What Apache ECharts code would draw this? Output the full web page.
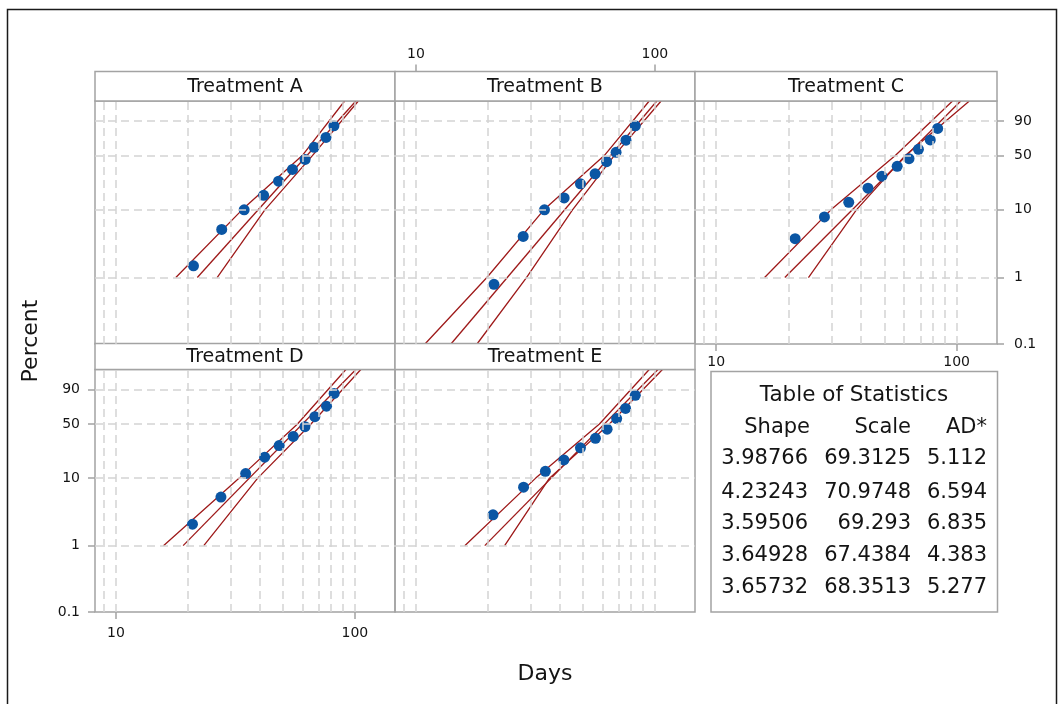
<!DOCTYPE html>
<html>
<head>
<meta charset="utf-8">
<title>Probability plot of Days</title>
<script src="https://cdn.jsdelivr.net/npm/echarts@6/dist/echarts.min.js"></script>
<style>
  html, body { margin: 0; padding: 0; background: #fff; }
  #chart { width: 1062px; height: 704px; }
</style>
</head>
<body>
<div id="chart"></div>
<script>
// panel titles
const panels = ["Treatment A", "Treatment B", "Treatment C", "Treatment D", "Treatment E"];

// plotted points (days, percent)
const daysA = [21.1, 27.7, 34.4, 41.5, 47.9, 54.8, 61.9, 67.5, 75.7, 81.7];
const pctA = [1.5, 5.2, 10.0, 16.0, 24.8, 34.8, 45.5, 60.3, 72.7, 85.7];
const daysB = [21.2, 28.1, 34.5, 41.7, 48.8, 56.2, 62.8, 68.8, 75.7, 82.8];
const pctB = [0.79, 4.1, 10.0, 14.7, 22.9, 30.8, 42.9, 54.0, 69.3, 85.7];
const daysC = [21.3, 28.2, 35.6, 42.8, 48.9, 56.6, 63.4, 69.4, 77.7, 83.4];
const pctC = [3.8, 7.9, 12.8, 20.0, 28.7, 37.9, 46.3, 57.7, 69.6, 83.1];
const daysD = [20.9, 27.5, 34.9, 41.9, 48.2, 55.2, 61.8, 68.0, 76.1, 81.9];
const pctD = [2.1, 5.3, 11.6, 19.6, 27.9, 36.2, 46.8, 59.1, 72.3, 86.5];
const daysE = [21.0, 28.2, 34.8, 41.6, 48.8, 56.4, 63.1, 69.2, 75.4, 82.8];
const pctE = [2.9, 7.4, 12.5, 18.0, 26.1, 34.3, 43.9, 56.7, 69.6, 84.7];

// fitted line and the two bounds, as [percent, days]
const fitA = [[1, 21.9], [99, 101]];
const leftA = [[1, 17.8], [10, 33.7], [50, 60.2], [99, 90.6]];
const rightA = [[1, 26.5], [10, 42.0], [50, 66.4], [99, 103.4]];
const fitB = [[0.1, 14.0], [99, 101.9]];
const leftB = [[0.1, 10.9], [1, 19.8], [10, 34.3], [50, 61.4], [99, 94.7]];
const rightB = [[0.1, 18.0], [1, 29.0], [10, 45.2], [50, 67.6], [99, 106.2]];
const fitC = [[1, 19.3], [99, 104]];
const leftC = [[1, 15.9], [10, 30.0], [50, 55.6], [99, 96.2]];
const rightC = [[1, 24.2], [10, 38.3], [50, 61.2], [99, 113]];
const fitD = [[1, 19.1], [99, 101]];
const leftD = [[1, 15.8], [10, 32.8], [50, 57.5], [99, 91.7]];
const rightD = [[1, 23.3], [10, 39.2], [50, 65.5], [99, 105.9]];
const fitE = [[1, 19.4], [99, 103]];
const leftE = [[1, 16.0], [10, 31.7], [50, 58.6], [99, 94.7]];
const rightE = [[1, 23.5], [10, 36.2], [50, 64.5], [99, 107.6]];

// axis ticks and grid lines
const pctTicks = [0.1, 1, 10, 50, 90];
const pctGrid = [1, 10, 50, 90];
const dayTicks = [10, 100];
const dayGrid = [9, 10, 20, 30, 40, 50, 60, 70, 80, 90, 100];

// table of statistics
const shapeCol = ["3.98766", "4.23243", "3.59506", "3.64928", "3.65732"];
const scaleCol = ["69.3125", "70.9748", "69.293", "67.4384", "68.3513"];
const adCol = ["5.112", "6.594", "6.835", "4.383", "5.277"];

const pts = [[daysA, pctA], [daysB, pctB], [daysC, pctC], [daysD, pctD], [daysE, pctE]];
const fits = [fitA, fitB, fitC, fitD, fitE];
const lefts = [leftA, leftB, leftC, leftD, leftE];
const rights = [rightA, rightB, rightC, rightD, rightE];

// weibull probability scale
function wb(p) { return Math.log(-Math.log(1 - p / 100)); }
function lg(d) { return Math.log10(d); }

const FONT = "DejaVu Sans";
const INK = "#141414";
const xMin = 0.912, xMax = 2.168;
const yMin = wb(0.1), yMax = wb(99);

const boxes = [
  { left: 95, top: 101, width: 300, height: 243 },
  { left: 395, top: 101, width: 300, height: 243 },
  { left: 695, top: 101, width: 302, height: 243 },
  { left: 95, top: 369.5, width: 300, height: 242.5 },
  { left: 395, top: 369.5, width: 300, height: 242.5 }
];
const heads = [
  { y: 71.5, h: 29.5 }, { y: 71.5, h: 29.5 }, { y: 71.5, h: 29.5 },
  { y: 343.5, h: 26 }, { y: 343.5, h: 26 }
];

const tickStyle = { show: true, length: 7, lineStyle: { color: "#a3a3a3", width: 1.5 } };
const labelFont = { color: INK, fontFamily: FONT, fontSize: 14 };

function xAxisFor(i) {
  let ax = {
    gridIndex: i, type: "value", min: xMin, max: xMax,
    axisLine: { show: false, onZero: false }, splitLine: { show: false },
    axisTick: { show: false }, axisLabel: { show: false }
  };
  if (i === 1 || i === 2 || i === 3) {
    ax.position = i === 1 ? "top" : "bottom";
    ax.offset = i === 1 ? 29.5 : 0;
    ax.axisTick = Object.assign({ customValues: dayTicks.map(lg) }, tickStyle);
    ax.axisLabel = Object.assign({
      show: true,
      customValues: dayTicks.map(lg),
      margin: i === 1 ? 10 : (i === 2 ? 11 : 14),
      formatter: v => String(Math.round(Math.pow(10, v)))
    }, labelFont);
  }
  return ax;
}

function yAxisFor(i) {
  let ax = {
    gridIndex: i, type: "value", min: yMin, max: yMax,
    axisLine: { show: false, onZero: false }, splitLine: { show: false },
    axisTick: { show: false }, axisLabel: { show: false }
  };
  if (i === 2 || i === 3) {
    ax.position = i === 2 ? "right" : "left";
    ax.axisTick = Object.assign({ customValues: pctTicks.map(wb) }, tickStyle);
    ax.axisLabel = Object.assign({
      show: true,
      customValues: pctTicks.map(wb),
      margin: i === 2 ? 17 : 15,
      formatter: v => {
        let p = 100 * (1 - Math.exp(-Math.exp(v)));
        return p < 1 ? p.toFixed(1) : String(Math.round(p));
      }
    }, labelFont);
  }
  return ax;
}

let series = [];
panels.forEach((name, i) => {
  // dashed reference grid
  series.push({
    type: "line", xAxisIndex: i, yAxisIndex: i, data: [], z: 1, silent: true,
    markLine: {
      silent: true, symbol: ["none", "none"], label: { show: false },
      lineStyle: { color: "#d4d4d4", type: [8, 5], width: 1.5 },
      emphasis: { disabled: true },
      data: pctGrid.map(p => ({ yAxis: wb(p) })).concat(dayGrid.map(d => ({ xAxis: lg(d) })))
    }
  });
  [lefts[i], fits[i], rights[i]].forEach(ln => {
    series.push({
      type: "line", xAxisIndex: i, yAxisIndex: i, z: 2, silent: true,
      showSymbol: false, clip: true,
      lineStyle: { color: "#9e1a1a", width: 1.3 },
      data: ln.map(r => [lg(r[1]), wb(r[0])])
    });
  });
  series.push({
    type: "scatter", name: name, xAxisIndex: i, yAxisIndex: i, z: 3,
    symbol: "circle", symbolSize: 11,
    itemStyle: { color: "#0b56a4", opacity: 1 },
    data: pts[i][0].map((d, k) => [lg(d), wb(pts[i][1][k])])
  });
});

let graphics = [
  { type: "rect", shape: { x: 7.5, y: 9.5, width: 1049, height: 720 },
    style: { fill: "none", stroke: "#1a1a1a", lineWidth: 1.5 }, z: 10 },
  { type: "text", x: 31, y: 341, rotation: Math.PI / 2,
    style: { text: "Percent", fontFamily: FONT, fontSize: 22, fill: INK, align: "center", verticalAlign: "middle" } },
  { type: "text", x: 545, y: 674,
    style: { text: "Days", fontFamily: FONT, fontSize: 22, fill: INK, align: "center", verticalAlign: "middle" } }
];
panels.forEach((name, i) => {
  const b = boxes[i], h = heads[i];
  graphics.push({ type: "rect", shape: { x: b.left, y: h.y, width: b.width, height: h.h },
    style: { fill: "#fff", stroke: "#a3a3a3", lineWidth: 1.5 }, z: 5 });
  graphics.push({ type: "text", x: b.left + b.width / 2, y: h.y + h.h / 2 + 0.5, z: 6,
    style: { text: name, fontFamily: FONT, fontSize: 19, fill: INK, align: "center", verticalAlign: "middle" } });
});

// table of statistics box
graphics.push({ type: "rect", shape: { x: 711, y: 371.5, width: 286.5, height: 240.5 },
  style: { fill: "#fff", stroke: "#a3a3a3", lineWidth: 1.5 }, z: 5 });
const cellStyle = { fontFamily: FONT, fontSize: 21, fill: INK, align: "right", verticalAlign: "middle" };
graphics.push({ type: "text", x: 854, y: 395, z: 6,
  style: Object.assign({}, cellStyle, { text: "Table of Statistics", align: "center", fontSize: 21.5 }) });
const colX = [808, 911, 987];
["Shape", "Scale", "AD*"].forEach((t, c) => {
  graphics.push({ type: "text", x: colX[c] + (c === 0 ? 2 : 0), y: 428, z: 6,
    style: Object.assign({}, cellStyle, { text: t }) });
});
const rowY = [459, 493, 523.5, 556, 588];
shapeCol.forEach((s, r) => {
  [s, scaleCol[r], adCol[r]].forEach((t, c) => {
    graphics.push({ type: "text", x: colX[c], y: rowY[r], z: 6,
      style: Object.assign({}, cellStyle, { text: t }) });
  });
});

const myChart = echarts.init(document.getElementById("chart"));
myChart.setOption({
  animation: false,
  backgroundColor: "#fff",
  grid: boxes.map(b => Object.assign({
    show: true, borderColor: "#a3a3a3", borderWidth: 1.5,
    backgroundColor: "transparent", containLabel: false, outerBoundsMode: "none"
  }, b)),
  xAxis: panels.map((n, i) => xAxisFor(i)),
  yAxis: panels.map((n, i) => yAxisFor(i)),
  series: series,
  graphic: graphics
});
</script>
</body>
</html>
